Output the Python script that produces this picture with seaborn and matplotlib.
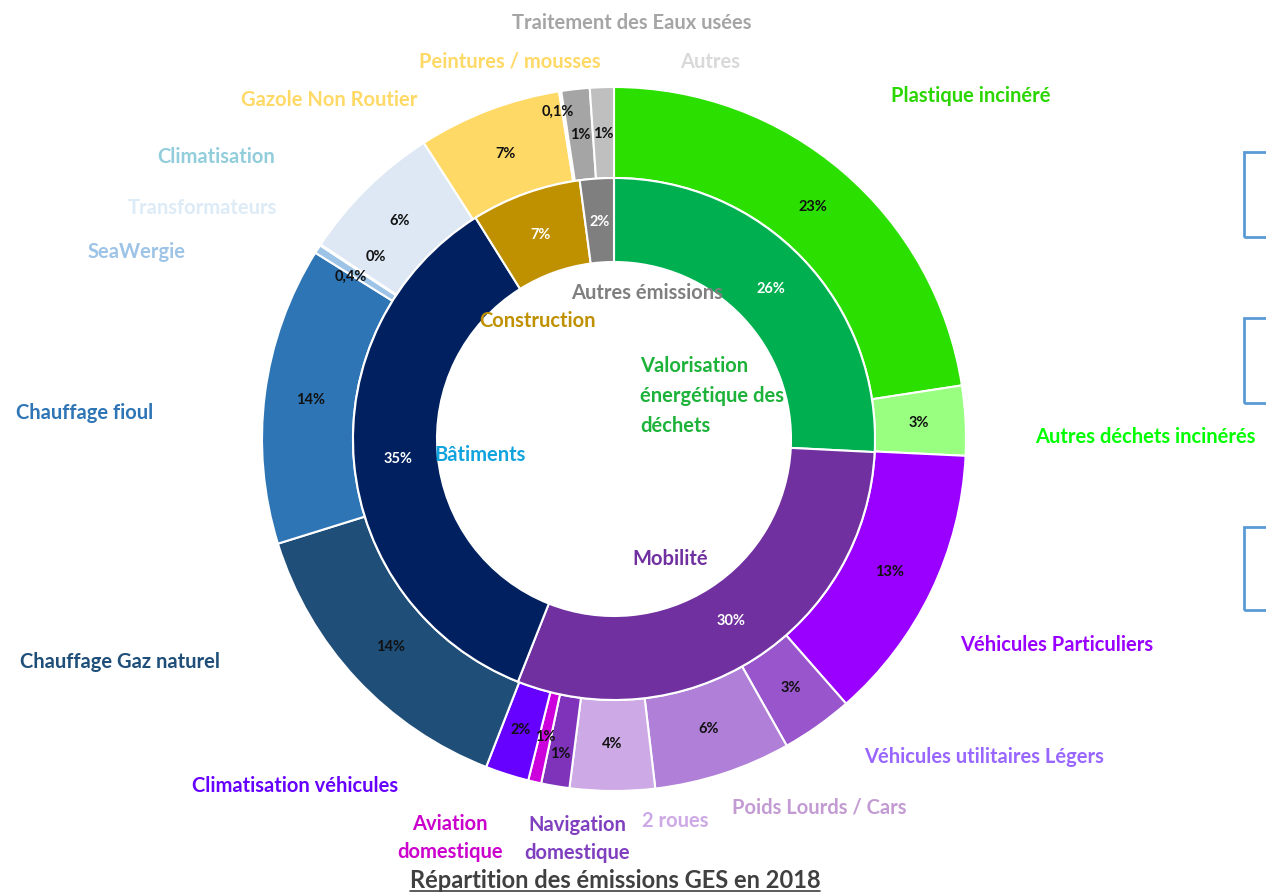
import matplotlib
matplotlib.use('Agg')
import matplotlib.pyplot as plt
from matplotlib.patches import Rectangle
import numpy as np
import seaborn as sns

# inner ring : main sectors (share of GHG emissions, %)
secteurs = ['Valorisation\nénergétique des\ndéchets', 'Mobilité', 'Bâtiments',
            'Construction', 'Autres émissions']
secteurs_val = [25.8, 30.2, 35.1, 6.8, 2.1]
secteurs_pct = ['26%', '30%', '35%', '7%', '2%']
secteurs_col = ['#00B050', '#7030A0', '#002060', '#BF9000', '#7F7F7F']
secteurs_txt_col = ['#1DB33A', '#7030A0', '#11A3DE', '#BF9000', '#7F7F7F']

# outer ring : detail of each sector
postes = ['Plastique incinéré', 'Autres déchets incinérés',
          'Véhicules Particuliers', 'Véhicules utilitaires Légers',
          'Poids Lourds / Cars', '2 roues', 'Navigation\ndomestique',
          'Aviation\ndomestique', 'Climatisation véhicules',
          'Chauffage Gaz naturel', 'Chauffage fioul', 'SeaWergie',
          'Transformateurs', 'Climatisation', 'Gazole Non Routier',
          'Peintures / mousses', 'Traitement des Eaux usées', 'Autres']
postes_val = [22.6, 3.2, 12.8, 3.3, 6.3, 3.9, 1.3, 0.6, 2.0,
              14.3, 13.7, 0.4, 0.05, 6.6, 6.6, 0.1, 1.3, 1.1]
postes_pct = ['23%', '3%', '13%', '3%', '6%', '4%', '1%', '1%', '2%',
              '14%', '14%', '0,4%', '0%', '6%', '7%', '0,1%', '1%', '1%']
postes_col = ['#2BE000', '#99FF80', '#9900FF', '#9955CC', '#B07FD8',
              '#CDA9E6', '#7F33BB', '#CC00DD', '#6600FF',
              '#1F4E79', '#2E75B6', '#9DC3E6', '#DDEBF7', '#DDE8F4',
              '#FFD966', '#FFE699', '#A5A5A5', '#BFBFBF']
postes_txt_col = ['#2BD600', '#00FF00', '#9900FF', '#9966FF', '#C39BD3',
                  '#CDA9E6', '#7F3FBF', '#CC00CC', '#6600FF',
                  '#1F4E79', '#2E75B6', '#9DC3E6', '#DDEBF7', '#92CDDC',
                  '#FFD966', '#FFD966', '#A5A5A5', '#D9D9D9']

W, H = 1266, 893
CX, CY = 614, 439
R_OUT, R_MID, R_IN = 352, 261, 177

# name label positions (pixels from top-left)
postes_pos = [(971, 96), (1145, 437), (1057, 645), (984, 757), (819, 808),
              (675, 821), (577, 839), (450, 838), (295, 786), (120, 662),
              (85, 413), (137, 252), (202, 208), (216, 157), (329, 100),
              (510, 62), (632, 23), (710, 62)]
secteurs_pos = [(640, 396), (670, 559), (480, 455), (538, 321), (647, 293)]

sns.set_theme(style='white')
plt.rcParams['font.family'] = ['Lato', 'DejaVu Sans']

fig = plt.figure(figsize=(W / 100, H / 100), dpi=100)
ax = fig.add_axes([0, 0, 1, 1])


def px(x, y):
    return x, H - y


wedges_out, _ = ax.pie(postes_val, colors=postes_col, radius=R_OUT, center=px(CX, CY),
                       startangle=90, counterclock=False, frame=True,
                       wedgeprops=dict(width=R_OUT - R_MID, edgecolor='white', linewidth=1.5))
wedges_in, _ = ax.pie(secteurs_val, colors=secteurs_col, radius=R_MID, center=px(CX, CY),
                      startangle=90, counterclock=False, frame=True,
                      wedgeprops=dict(width=R_MID - R_IN, edgecolor='white', linewidth=1.5))
ax.set_xlim(0, W)
ax.set_ylim(0, H)
ax.set_aspect('equal')
ax.axis('off')

# small tweaks for crowded percentage labels: index -> (radius shift px, angle shift deg)
tweaks = {6: (14, 0), 11: (4, 1), 12: (-6, -4), 15: (27, 1)}


def put_pct(wedges, labels, rmid, color, tw=None):
    for i, (w, lab) in enumerate(zip(wedges, labels)):
        ang = (w.theta1 + w.theta2) / 2
        r = rmid
        if tw and i in tw:
            r += tw[i][0]
            ang += tw[i][1]
        x = w.center[0] + r * np.cos(np.radians(ang))
        y = w.center[1] + r * np.sin(np.radians(ang))
        ax.text(x, y, lab, ha='center', va='center', fontsize=10.5,
                fontweight='bold', color=color)


put_pct(wedges_out, postes_pct, (R_OUT + R_MID) / 2 - 1, '#111111', tweaks)
put_pct(wedges_in, secteurs_pct, (R_MID + R_IN) / 2 - 2, 'white')

for name, (x, y), c in zip(postes, postes_pos, postes_txt_col):
    ax.text(*px(x, y), name, ha='center', va='center', fontsize=14.5,
            fontweight='bold', color=c, linespacing=1.55)

for i, (name, (x, y), c) in enumerate(zip(secteurs, secteurs_pos, secteurs_txt_col)):
    ha = 'left' if i == 0 else 'center'
    ax.text(*px(x, y), name, ha=ha, va='center', fontsize=14.5,
            fontweight='bold', color=c, linespacing=1.6)

# partially visible boxes on the right edge
for y0, y1 in [(152, 237), (318, 403), (527, 610)]:
    ax.add_patch(Rectangle(px(1244, y1), 60, y1 - y0, fill=False,
                           edgecolor='#5B9BD5', linewidth=2, clip_on=True))

# underlined title
title = ax.text(*px(615, 880), 'Répartition des émissions GES en 2018', ha='center',
                va='center', fontsize=17, fontweight='bold', color='#404040')
fig.canvas.draw()
bb = title.get_window_extent().transformed(ax.transData.inverted())
ax.plot([bb.x0, bb.x1], [H - 891, H - 891], color='#404040', linewidth=1.2)

fig.savefig('out.png', dpi=100)
